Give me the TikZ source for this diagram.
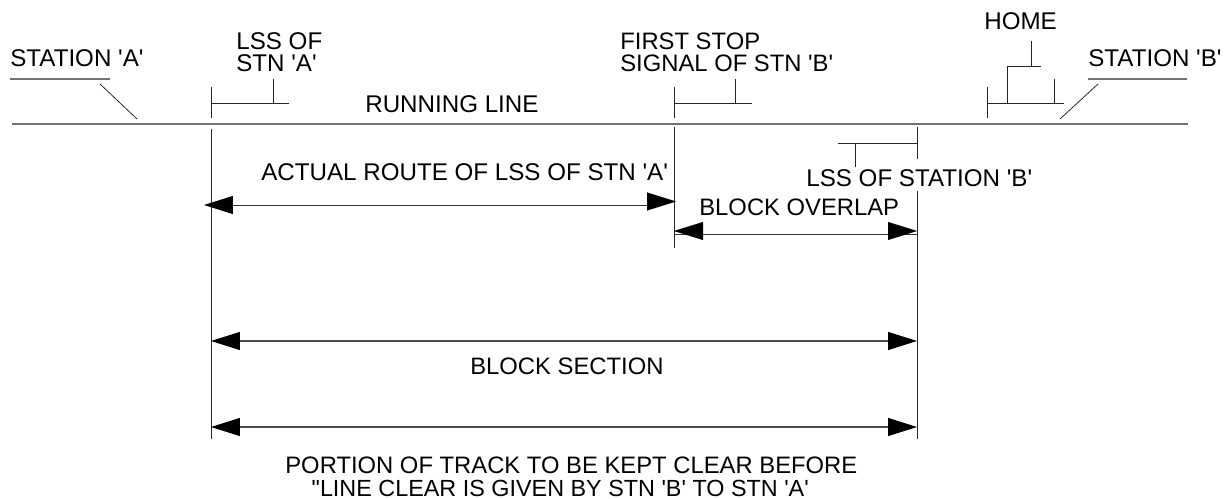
\documentclass[tikz,border=0pt]{standalone}
\usepackage{fontspec}
\newfontfamily\lblfont{Liberation Sans}
\usepackage{tikz}
\usetikzlibrary{arrows.meta,positioning,calc}

\tikzset{
  >={Triangle[length=0.58cm,width=0.36cm,black]},
  lbl/.style={font=\lblfont\fontsize{13.75}{13}\selectfont, inner sep=0pt, anchor=base west, align=left},
  lblsmall/.style={lbl, font=\lblfont\fontsize{13.55}{13}\selectfont},
  trackline/.style={draw=black!55, line width=1.1pt},
  thinline/.style={draw=black!85, line width=0.45pt},
  dimline/.style={draw=black!70, line width=0.65pt},
  dimplain/.style={draw=black!80, line width=0.5pt},
  dimhead/.style={line width=0.1pt, ->},
}

\begin{document}
\begin{tikzpicture}[x=0.02cm,y=-0.02cm]
    \useasboundingbox (0,0) rectangle (1229,499);
    % track
    \coordinate (trackW) at (12,124);
    \coordinate (trackE) at (1188,124);
    \draw[trackline] (trackW) -- (trackE);
    \node[lbl] (running) at (365,113) {RUNNING LINE};
    % stations
    \node[lbl] (stnA) at (10,67) {STATION 'A'};
    \node[lbl] (stnB) at (1088,67) {STATION 'B'};
    \draw[trackline, line width=0.6pt] (10,79) -- (110,79);
    \draw[trackline, line width=0.6pt] (1088,79) -- (1187,79);
    \draw[thinline] (100,84) -- (137,119);
    \draw[thinline] (1098,84) -- (1060,119);
    % signals above the track
    \node[lbl] (lssA) at (236,72) {LSS OF\\STN 'A'};
    \draw[thinline] (211,87) -- (211,118);
    \draw[thinline] (211,103) -- (289,103);
    \draw[thinline] (273,79) -- (273,103);
    \node[lblsmall] (firststop) at (620,72) {FIRST STOP\\SIGNAL OF STN 'B'};
    \draw[thinline] (674,87) -- (674,118);
    \draw[thinline] (674,103) -- (752,103);
    \draw[thinline] (735.5,79) -- (735.5,103);
    \node[lbl] (home) at (984,30) {HOME};
    \draw[thinline] (987,87) -- (987,118);
    \draw[thinline] (987,103) -- (1064,103);
    \draw[thinline] (1054,79) -- (1054,103);
    \draw[thinline] (1007,103) -- (1007,66) -- (1041,66);
    \draw[thinline] (1031,41) -- (1031,66);
    % LSS of station B
    \draw[thinline] (917,127) -- (917,159);
    \draw[thinline] (838,143) -- (917,143);
    \draw[thinline] (855,143) -- (855,167);
    \node[lbl] (lssB) at (806,187) {LSS OF STATION 'B'};
    % extension lines
    \draw[thinline] (211,129) -- (211,439);
    \draw[thinline] (674,127) -- (674,248);
    \draw[thinline] (917,191) -- (917,439);
    % dimensions
    \coordinate (routeL) at (204,205);
    \coordinate (routeM) at (648,205);
    \draw[dimplain, <-] (routeL) -- (routeM);
    \draw[dimhead] (647,201.5) -- (676,201.5);
    \node[lbl] (route) at (261,181) {ACTUAL ROUTE OF LSS OF STN 'A'};
    \coordinate (overL) at (674,234);
    \coordinate (overR) at (917,234);
    \draw[dimplain] (overL) -- (overR);
    \draw[dimhead] (702,231) -- (674,231);
    \draw[dimhead] (888,231) -- (917,231);
    \node[lblsmall] (overlap) at (699,216) {BLOCK OVERLAP};
    \coordinate (blockL) at (211,341);
    \coordinate (blockR) at (917,341);
    \draw[dimline, <->] (blockL) -- (blockR);
    \node[lblsmall] (block) at (470,375) {BLOCK SECTION};
    \coordinate (clearL) at (211,427);
    \coordinate (clearR) at (917,427);
    \draw[dimline, <->] (clearL) -- (clearR);
    \node[lblsmall] (clear) at (285,496) {PORTION OF TRACK TO BE KEPT CLEAR BEFORE\\\hspace*{15pt}\fontsize{13.3}{13}\selectfont"LINE CLEAR IS GIVEN BY STN 'B' TO STN 'A'};
\end{tikzpicture}
\end{document}
